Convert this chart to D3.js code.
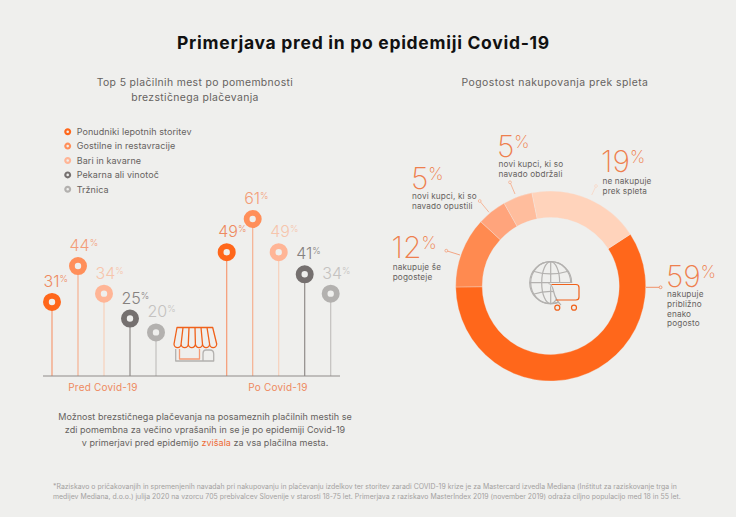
<!DOCTYPE html>
<html><head><meta charset="utf-8">
<script src="https://cdn.jsdelivr.net/npm/d3@7"></script>
<style>
html,body{margin:0;padding:0;background:#efefed}
svg{display:block}
text{font-family:Inter,Lato,sans-serif}
</style></head><body><div id="c"></div>
<script>
const groups=["Pred Covid-19","Po Covid-19"];
const categories=["Ponudniki lepotnih storitev","Gostilne in restavracije","Bari in kavarne","Pekarna ali vinotoč","Tržnica"];
const predValues=[31,44,34,25,20];
const poValues=[49,61,49,41,34];
const catColors=["#ff671b","#ff8f5a","#ffb596","#75706f","#b3b1af"];
const labelColors=["#ee8a60","#f39d78","#f6c5ac","#85817f","#c4c2c0"];
const stemColors=["#f59a74","#f5b090","#f7d0bb","#8f8b89","#c2c0be"];

const shareValues=[59,12,5,5,19];
const shareColors=["#ff671b","#ff8a50","#ffa47c","#ffbd9d","#ffd3bb"];
const shareText=[["nakupuje","približno","enako","pogosto"],["nakupuje še","pogosteje"],["novi kupci, ki so","navado opustili"],["novi kupci, ki so","navado obdržali"],["ne nakupuje","prek spleta"]];

const titleText="Primerjava pred in po epidemiji Covid-19";
const leftTitle=["Top 5 plačilnih mest po pomembnosti","brezstičnega plačevanja"];
const rightTitle="Pogostost nakupovanja prek spleta";
const footnote=["*Raziskavo o pričakovanjih in spremenjenih navadah pri nakupovanju in plačevanju izdelkov ter storitev zaradi COVID-19 krize je za Mastercard izvedla Mediana (Inštitut za raziskovanje trga in","medijev Mediana, d.o.o.) julija 2020 na vzorcu 705 prebivalcev Slovenije v starosti 18-75 let. Primerjava z raziskavo MasterIndex 2019 (november 2019) odraža ciljno populacijo med 18 in 55 let."];

const W=736,H=517,bg="#efefed",ink="#666260";
const svg=d3.select("#c").append("svg").attr("width",W).attr("height",H).attr("viewBox",[0,0,W,H]);
svg.append("rect").attr("width",W).attr("height",H).attr("fill",bg);

function lines(sel,arr,x,y,dy,attrs){
  arr.forEach((t,i)=>{const e=sel.append("text").attr("x",x).attr("y",y+i*dy).text(t);
    Object.entries(attrs).forEach(([k,v])=>e.attr(k,v));});
}
svg.append("text").attr("x",363.5).attr("y",49).attr("text-anchor","middle").attr("font-size",17.5).attr("font-weight",700).attr("letter-spacing",0.72).attr("fill","#111").text(titleText);
lines(svg,leftTitle,195,86,14.5,{"text-anchor":"middle","font-size":10.4,"letter-spacing":0.37,fill:ink});
svg.append("text").attr("x",555).attr("y",86).attr("text-anchor","middle").attr("font-size",10.4).attr("letter-spacing",0.45).attr("fill",ink).text(rightTitle);

// legend
const leg=svg.append("g").selectAll("g").data(categories).join("g").attr("transform",(d,i)=>`translate(67.7,${131.7+i*14.4})`);
leg.append("circle").attr("r",2.4).attr("fill",bg).attr("stroke",(d,i)=>catColors[i]).attr("stroke-width",2.2);
leg.append("text").attr("x",9).attr("y",3.3).attr("font-size",9).attr("letter-spacing",0.08).attr("fill",ink).text(d=>d);

// lollipops
const gx=d3.scaleOrdinal().domain(groups).range([52,226.7]);
const ix=d3.scalePoint().domain(categories).range([0,104]);
const y=d3.scaleLinear().domain([0,61]).range([387.7,219]);
const baseY=376;
const rows=groups.flatMap((g,gi)=>(gi?poValues:predValues).map((v,i)=>({g,v,i,c:categories[i]})));
const lg=svg.append("g");
const rowG=lg.selectAll("g").data(rows).join("g").attr("transform",d=>`translate(${gx(d.g)+ix(d.c)},0)`);
rowG.append("line").attr("y1",d=>y(d.v)).attr("y2",baseY).attr("stroke",d=>stemColors[d.i]).attr("stroke-width",1.2);
rowG.append("circle").attr("cy",d=>y(d.v)).attr("r",6.1).attr("fill",bg).attr("stroke",d=>catColors[d.i]).attr("stroke-width",5.8);
const vt=rowG.append("text").attr("x",-8.5).attr("y",d=>y(d.v)-15).attr("font-weight",300).attr("fill",d=>labelColors[d.i]);
vt.append("tspan").attr("font-size",16).attr("letter-spacing",0).text(d=>d.v);
vt.append("tspan").attr("font-size",9).attr("dy",-5).text("%");
lg.append("line").attr("x1",43).attr("x2",340).attr("y1",baseY).attr("y2",baseY).attr("stroke","#8f8b89").attr("stroke-width",1);
lg.selectAll(".gl").data(groups).join("text").attr("class","gl").attr("x",(d,i)=>[103,278][i]).attr("y",391).attr("text-anchor","middle").attr("font-size",10).attr("letter-spacing",0.2).attr("fill","#ee8a60").text(d=>d);

// shop icon
const shop=svg.append("g").attr("fill","none").attr("stroke-width",1.3).attr("stroke-linejoin","round");
shop.append("path").attr("stroke","#b3b1af").attr("d","M175.7 349V361H213.7V354Q213.7 350 210 350H206Q203 350 203 354V361");
shop.append("path").attr("stroke","#f59a74").attr("d","M179.5 349V359H199.5V349");
const scallop=[174,181.1,188.3,195.4,202.5,209.6,216.7], topx=[177,183,189,195,201,207,212.7];
let aw=`M${topx[0]} 327.5H${topx[6]}L${scallop[6]} 344`;
for(let k=6;k>0;k--) aw+=`A3.55 3.55 0 0 1 ${scallop[k-1]} 344`;
aw+="Z";
for(let k=1;k<6;k++) aw+=`M${topx[k]} 327.5L${scallop[k]} 344`;
shop.append("path").attr("stroke","#f0611a").attr("d",aw);

// donut
const cx=550.7,cy=286,R=95,r=68.5;
const startA=57*Math.PI/180;
const arcs=d3.pie().sort(null).startAngle(startA).endAngle(startA+2*Math.PI)(shareValues);
const arc=d3.arc().innerRadius(r).outerRadius(R);
const dg=svg.append("g").attr("transform",`translate(${cx},${cy})`);
dg.selectAll("path").data(arcs).join("path").attr("d",arc).attr("fill",(d,i)=>shareColors[i]).attr("stroke",bg).attr("stroke-width",0.3);

// labels on donut
const labelPos=[[666,286.5],[391.5,258],[411,189],[497,157],[601,172]];
const textPos=[[667,297],[392.7,270],[412,199],[498.5,167],[602.5,184]];
const leaders=[[646,287.3,660.6,287.3],[460,255,446.3,250.7],[489,212.3,479.7,201],[515,194,510,182.3],[591.7,195,596,186]];
const leadCol=["#f0865a","#f39d78","#f5b090","#f5b090","#f7d8c8"];
shareValues.forEach((v,i)=>{
  const t=svg.append("text").attr("x",labelPos[i][0]).attr("y",labelPos[i][1]).attr("font-weight",200).attr("fill","#ee7f4e");
  t.append("tspan").attr("font-size",30).attr("letter-spacing",0).text(v);
  t.append("tspan").attr("font-size",17).attr("dy",-9).text("%");
  lines(svg,shareText[i],textPos[i][0],textPos[i][1],9.8,{"font-size":8.2,"letter-spacing":0.15,fill:ink});
  const l=leaders[i];
  svg.append("line").attr("x1",l[0]).attr("y1",l[1]).attr("x2",l[2]).attr("y2",l[3]).attr("stroke",leadCol[i]).attr("stroke-width",0.9);
  svg.append("circle").attr("cx",l[2]).attr("cy",l[3]).attr("r",1.4).attr("fill",bg).attr("stroke",leadCol[i]).attr("stroke-width",0.8);
});

// globe + cart icon
const ic=svg.append("g").attr("fill","none").attr("stroke-width",1.2);
const gr=ic.append("g").attr("stroke","#b3b1af").attr("transform","translate(550.7,282.7)");
gr.append("circle").attr("r",21);
[9,20].forEach(rx=>gr.append("ellipse").attr("rx",rx).attr("ry",21));
gr.append("line").attr("y1",-21).attr("y2",21);
gr.append("line").attr("x1",-21).attr("x2",21);
gr.append("path").attr("d","M-17.5 -11.5Q0 -6 17.5 -11.5M-17.5 11.5Q0 6 17.5 11.5");
ic.append("path").attr("fill",bg).attr("stroke","none").attr("d","M549 283H582V305H560Z");
ic.append("path").attr("stroke","#b3b1af").attr("d","M548.5 283.5Q552 284 553.5 291Q555.5 300 561 305");
ic.append("path").attr("stroke","#f0611a").attr("d","M551.5 284.5H576Q579 284.5 579 287.5V297Q579 300 576 300H556");
ic.selectAll(".w").data([557.3,574]).join("circle").attr("class","w").attr("cx",d=>d).attr("cy",307.7).attr("r",2.5).attr("stroke","#f0611a");

// paragraph
const pAttrs={"text-anchor":"middle","font-size":9,"letter-spacing":0.05,fill:ink};
lines(svg,["Možnost brezstičnega plačevanja na posameznih plačilnih mestih se","zdi pomembna za večino vprašanih in se je po epidemiji Covid-19"],205,420,13,pAttrs);
const p3=svg.append("text").attr("x",205).attr("y",446).attr("text-anchor","middle").attr("font-size",9).attr("letter-spacing",0.05).attr("fill",ink);
p3.append("tspan").text("v primerjavi pred epidemijo ");
p3.append("tspan").attr("fill","#ee6a35").text("zvišala");
p3.append("tspan").text(" za vsa plačilna mesta.");
lines(svg,footnote,53,488.5,10,{"font-size":6.9,"letter-spacing":0.015,"fill":"#a3a19f"});
</script></body></html>
